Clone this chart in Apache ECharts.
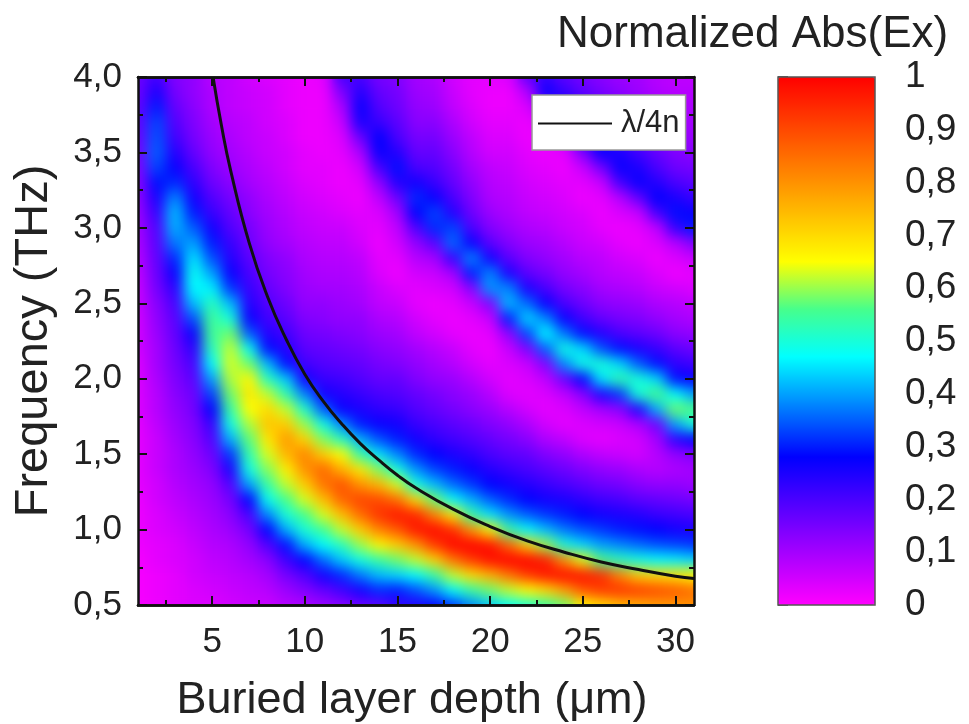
<!DOCTYPE html>
<html><head><meta charset="utf-8">
<style>html,body{margin:0;padding:0;background:#fff}#c{width:969px;height:724px}</style>
<script src="https://cdn.jsdelivr.net/npm/echarts@6/dist/echarts.min.js"></script>
</head><body><div id="c"></div>
<script>
const depths = [1,2,3,4,5,6,7,8,9,10,11,12,13,14,15,16,17,18,19,20,21,22,23,24,25,26,27,28,29,30,31];
const freqs = [0.5,0.6,0.7,0.8,0.9,1.0,1.1,1.2,1.3,1.4,1.5,1.6,1.7,1.8,1.9,2.0,2.1,2.2,2.3,2.4,2.5,2.6,2.7,2.8,2.9,3.0,3.1,3.2,3.3,3.4,3.5,3.6,3.7,3.8,3.9,4.0];
// normalized Abs(Ex) x 100; one row per depth, frequency ascending
const absByDepth = [
[1,1,1,1,2,2,2,2,3,3,3,3,3,4,4,4,4,5,5,5,6,6,7,8,9,10,11,12,13,14,15,16,17,17,16,16],
[2,2,2,3,3,4,4,5,5,6,6,6,7,8,8,9,10,10,11,12,13,15,16,17,18,19,22,25,29,33,35,34,33,30,25,21],
[3,3,3,4,4,5,6,7,8,9,9,10,11,12,13,14,15,16,17,18,20,23,27,31,37,41,42,38,31,27,24,21,19,17,15,14],
[4,4,5,5,6,7,8,9,10,11,12,13,14,15,16,18,20,23,27,34,42,47,48,45,40,35,30,26,23,20,17,15,14,13,12,12],
[4,5,6,7,8,9,10,11,12,14,16,19,22,28,33,40,47,52,55,55,52,46,40,34,30,26,22,19,16,14,12,11,10,9,9,8],
[5,6,7,8,9,11,13,15,19,25,32,41,49,54,58,61,63,62,58,50,42,32,27,24,22,19,17,15,13,11,10,9,8,7,7,7],
[6,7,8,10,12,15,20,28,40,49,53,57,61,65,68,66,58,48,35,27,24,22,20,18,16,15,13,12,10,9,8,7,7,6,6,5],
[6,8,10,13,19,28,38,48,54,59,63,68,73,70,62,52,42,29,24,21,19,17,15,14,12,11,10,9,8,7,6,6,5,5,5,4],
[8,11,15,21,29,41,50,56,62,67,75,79,72,62,53,43,29,24,21,18,16,14,13,12,10,9,8,7,6,5,5,4,4,3,3,3],
[9,14,19,28,41,50,56,63,72,80,82,71,60,51,38,26,21,18,16,14,12,11,10,9,8,7,6,5,4,3,3,2,2,2,2,2],
[11,17,26,36,47,55,63,74,84,86,72,59,49,35,26,22,19,17,15,13,12,10,9,8,7,6,5,4,3,3,2,2,2,2,2,3],
[13,21,31,43,52,62,74,86,89,76,65,52,38,27,24,21,18,16,14,12,11,10,9,8,7,6,4,3,2,2,3,4,6,9,14,20],
[16,26,37,49,60,72,85,91,80,68,54,41,30,25,22,19,17,15,13,12,10,9,8,7,5,4,3,2,3,5,9,16,25,27,24,20],
[18,31,42,54,66,82,93,90,75,59,45,34,27,23,20,17,15,13,11,9,7,6,4,3,2,3,4,7,12,20,27,28,22,19,17,15],
[22,30,44,58,72,88,97,85,63,49,38,30,26,22,19,17,14,12,10,8,6,4,2,3,5,7,10,16,24,29,24,20,18,16,15,14],
[24,34,47,62,80,97,95,70,49,39,31,26,22,19,17,14,12,10,7,5,3,3,5,8,12,19,28,31,26,20,17,15,13,12,11,10],
[27,39,54,71,92,99,82,58,42,33,28,23,20,17,15,12,10,8,5,3,2,4,6,10,18,31,33,27,22,19,17,15,13,11,10,9],
[32,47,62,84,99,94,68,47,36,30,25,21,18,15,13,11,8,6,3,2,3,5,10,22,36,33,24,20,17,15,13,11,9,7,6,5],
[38,54,70,92,100,80,54,41,32,27,23,19,16,13,11,8,5,3,2,3,6,13,30,38,27,20,16,14,12,10,8,7,5,4,3,3],
[43,58,76,98,98,66,45,35,28,24,20,17,14,11,8,5,3,2,3,6,14,39,38,26,18,14,11,9,8,7,5,4,3,2,2,3],
[47,62,84,100,86,54,39,31,26,22,18,15,12,8,4,3,4,6,12,30,42,38,25,18,14,11,9,8,7,6,5,4,3,2,2,4],
[50,65,92,100,72,47,35,28,24,20,17,13,9,5,3,4,6,14,33,44,36,25,18,14,11,9,7,6,5,4,3,2,2,4,8,17],
[54,70,97,96,60,42,32,26,22,18,14,9,5,3,4,7,14,35,47,38,27,20,15,12,10,8,6,5,4,3,2,3,6,14,27,22],
[58,78,99,80,50,37,30,25,20,16,12,7,3,4,7,16,38,49,37,27,20,15,12,10,8,6,5,4,3,2,3,8,20,26,22,18],
[66,88,98,64,44,34,28,23,18,14,9,4,4,7,13,28,49,44,29,21,16,13,10,8,6,5,4,2,3,6,14,24,26,21,18,15],
[70,92,94,56,40,32,26,21,16,12,7,3,5,10,25,45,50,34,24,17,13,10,8,7,5,3,2,3,6,15,27,26,22,18,15,13],
[74,93,82,52,38,30,25,20,15,11,6,4,6,13,32,53,44,29,20,15,12,9,7,5,3,2,4,8,20,27,25,21,18,15,13,11],
[76,92,72,49,36,29,24,18,13,9,5,5,9,25,50,50,35,25,18,14,11,8,6,4,2,3,6,17,27,25,21,18,15,13,11,10],
[78,90,70,47,34,28,22,17,12,8,8,10,16,41,56,44,29,22,16,12,9,6,4,2,4,7,20,28,24,20,17,14,12,10,9,8],
[79,88,68,46,33,26,21,16,12,9,12,23,40,58,47,29,23,18,13,10,8,5,2,4,8,22,29,25,20,16,14,12,10,9,8,7],
[80,85,65,44,32,25,20,15,11,10,14,28,50,56,40,27,21,16,12,9,7,4,3,6,14,30,27,22,18,15,13,11,10,9,8,7]
];
const lineDepths = [5.05,5.5,6,7,8,9,10,11,12,13,14,15,16,18,20,22,24,26,28,30,31];
const lineFreqs = [4.0,3.68,3.38,2.90,2.54,2.26,2.03,1.85,1.70,1.57,1.46,1.36,1.275,1.135,1.02,0.925,0.85,0.785,0.735,0.69,0.675];
const xMajor = [5,10,15,20,25,30];
const xMinor = [2.5,7.5,12.5,17.5,22.5,27.5];
const colorStops = [[0,[255,0,255]],[0.28,[0,0,255]],[0.47,[0,255,255]],[0.56,[70,255,140]],[0.65,[255,255,0]],[1,[255,0,0]]];
const seriesName = 'λ/4n';
const xTitle = 'Buried layer depth (μm)';
const yTitle = 'Frequency (THz)';
const barTitle = 'Normalized Abs(Ex)';

function ramp(n){
  const out=[];
  for(let i=0;i<n;i++){
    const t=i/(n-1);let k=0;
    while(k<colorStops.length-2&&t>colorStops[k+1][0])k++;
    const a=colorStops[k],b=colorStops[k+1],u=(t-a[0])/(b[0]-a[0]);
    out.push('rgb('+[0,1,2].map(j=>Math.round(a[1][j]+(b[1][j]-a[1][j])*u)).join(',')+')');
  }
  return out;
}
const cells=[];
depths.forEach((d,i)=>freqs.forEach((f,j)=>cells.push([i,j,absByDepth[i][j]/100])));
const comma=v=>String(v).replace('.',',');
const L=138,T=77,W=556,H=528,F='"Liberation Sans",Arial,sans-serif',INK='#222';
const cw=W/(depths.length-1),ch=H/(freqs.length-1);
const line={show:true,onZero:false,lineStyle:{color:'#111',width:2.5}};
function xAx(pos,vals,len,label){return {type:'value',gridIndex:1,position:pos,min:1,max:31,splitLine:{show:false},axisLine:line,
  axisTick:{show:true,inside:true,length:len,customValues:vals,lineStyle:{color:'#111',width:2}},
  axisLabel:label?{show:true,customValues:vals,fontFamily:F,fontSize:35,color:INK,margin:20}:{show:false}};}
const chart=echarts.init(document.getElementById('c'),null,{renderer:'canvas'});
const xA=xAx('bottom',xMajor,9,true);
xA.name=xTitle;xA.nameLocation='middle';xA.nameGap=73;xA.nameTextStyle={fontFamily:F,fontSize:45,color:INK,padding:[0,8,0,0]};
chart.setOption({
  animation:false,backgroundColor:'#fff',
  grid:[
    {left:L-cw/2,top:T-ch/2,width:W+cw,height:H+ch,outerBoundsMode:'none'},
    {left:L,top:T,width:W,height:H,outerBoundsMode:'none'},
    {left:778,top:77,width:97,height:528,show:false,outerBoundsMode:'none'}
  ],
  xAxis:[
    {type:'category',gridIndex:0,data:depths,show:false},
    xA,
    xAx('bottom',xMinor,5,false),
    xAx('top',xMajor,9,false),
    xAx('top',xMinor,5,false),
    {type:'value',gridIndex:2,min:0,max:1,show:false}
  ],
  yAxis:[
    {type:'category',gridIndex:0,data:freqs,show:false},
    {type:'value',gridIndex:1,position:'left',min:0.5,max:4,interval:0.5,splitLine:{show:false},axisLine:line,
      axisTick:{inside:true,length:9,lineStyle:{color:'#111',width:2}},
      minorTick:{show:true,splitNumber:2,length:5,lineStyle:{color:'#111',width:2}},
      axisLabel:{fontFamily:F,fontSize:35,color:INK,margin:16,formatter:v=>v.toFixed(1).replace('.',',')},
      name:yTitle,nameLocation:'middle',nameGap:80,nameTextStyle:{fontFamily:F,fontSize:47,color:INK}},
    {type:'value',gridIndex:1,position:'right',min:0.5,max:4,interval:0.5,splitLine:{show:false},axisLine:line,
      axisTick:{inside:true,length:9,lineStyle:{color:'#111',width:2}},
      minorTick:{show:true,splitNumber:2,length:5,lineStyle:{color:'#111',width:2}},
      axisLabel:{show:false}},
    {type:'value',gridIndex:2,position:'right',min:0,max:1,interval:0.1,splitLine:{show:false},
      axisLine:{show:false},
      axisTick:{show:true,length:10,lineStyle:{color:'#333',width:1.5}},
      axisLabel:{fontFamily:F,fontSize:37,color:INK,margin:30,formatter:v=>comma(v)}}
  ],
  visualMap:{type:'continuous',seriesIndex:[0,1],min:0,max:1,calculable:false,show:true,hoverLink:false,orient:'vertical',
    left:778,top:77,itemWidth:97,itemHeight:528,padding:0,text:null,inRange:{color:ramp(201)},borderWidth:0},
  legend:{show:true,left:532,top:95,padding:[13,6,11,6],itemGap:0,itemWidth:74,itemHeight:14,backgroundColor:'#fff',borderColor:'#999',borderWidth:1.5,
    textStyle:{fontFamily:F,fontSize:31,color:INK,padding:[0,0,0,4]},data:[{name:seriesName,icon:'path://M0 6H74V8H0Z'}]},
  title:{text:barTitle,left:557,top:13,padding:0,textStyle:{fontFamily:F,fontSize:44,fontWeight:'normal',color:INK}},
  graphic:[{type:'rect',z:100,silent:true,shape:{x:778,y:77,width:97,height:528},style:{fill:null,stroke:'#555',lineWidth:1.5}}],
  series:[
    {type:'heatmap',xAxisIndex:0,yAxisIndex:0,zlevel:-1,data:cells,progressive:0,emphasis:{disabled:true},itemStyle:{borderWidth:0}},
    {type:'heatmap',xAxisIndex:0,yAxisIndex:0,zlevel:-2,data:cells,progressive:0,emphasis:{disabled:true},itemStyle:{borderWidth:0}},
    {name:seriesName,type:'line',xAxisIndex:1,yAxisIndex:1,data:lineDepths.map((d,i)=>[d,lineFreqs[i]]),smooth:true,symbol:'none',clip:true,
      lineStyle:{color:'#111',width:3},itemStyle:{color:'#111'}}
  ]
});
const zr=chart.getZr().painter;
const clip='inset('+T+'px '+(969-L-W)+'px '+(724-T-H)+'px '+L+'px)';
[-1,-2].forEach(z=>{const l=zr.getLayer(z);if(l&&l.dom){l.dom.style.clipPath=clip;if(z===-1)l.dom.style.filter='blur(7px)';}});
</script></body></html>
